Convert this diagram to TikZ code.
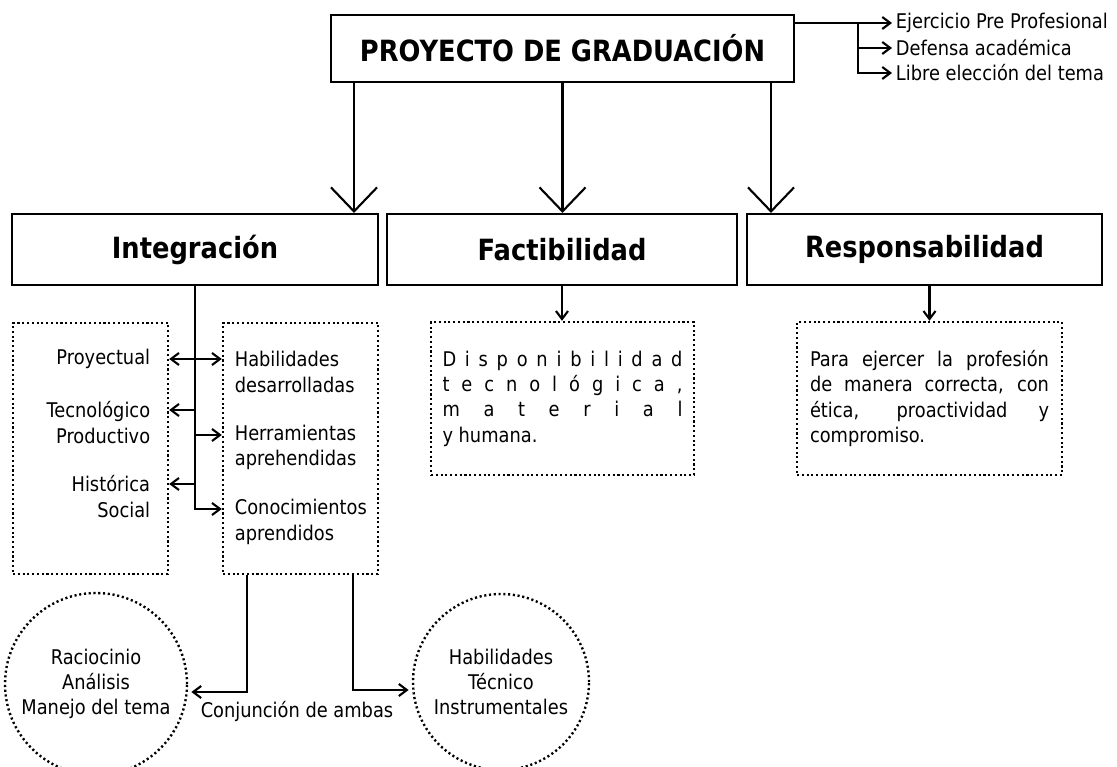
\documentclass[tikz,border=0pt]{standalone}
\usepackage{fontspec}
\setmainfont{DejaVu Sans}[FakeStretch=0.88]
\usetikzlibrary{arrows.meta}

\newcommand\espaciar[1]{\makebox[6cm][s]{#1}}

\begin{document}
\begin{tikzpicture}[line width=1.5pt,
  caja/.style={draw,rectangle,minimum height=1.775cm,font=\fontsize{20.8}{24}\selectfont\bfseries},
  punteado/.style={draw,line width=1.7pt,dash pattern=on 1.5pt off 1.9pt},
  texto/.style={font=\fontsize{14.4}{18}\selectfont,inner xsep=2pt,inner ysep=0pt},
  flecha/.style={-{Straight Barb[length=0.6cm,width=1.15cm]}},
  flechita/.style={-{Straight Barb[length=0.2cm,width=0.3cm]}}]
\useasboundingbox (0,0) rectangle (27.925,-19.175);
% cabecera
\node[caja,minimum width=11.575cm,minimum height=1.675cm] (proy) at (14.0625,-1.2125) {PROYECTO DE GRADUACIÓN};
\node[texto,anchor=west] (ejer) at (22.3,-0.575) {Ejercicio Pre Profesional};
\node[texto,anchor=west] (defe) at (22.3,-1.2) {Defensa académica};
\node[texto,anchor=west] (libr) at (22.3,-1.825) {Libre elección del tema};
\coordinate (brk) at (21.45,-0.575);
\draw[flechita] (proy.east |- ejer.west) -- (ejer.west);
\draw[flechita] (brk |- defe.west) -- (defe.west);
\draw[flechita] (brk) |- (libr.west);
% tres ejes
\node[caja,minimum width=9.15cm] (integ) at (4.875,-6.2375) {Integración};
\node[caja,minimum width=8.75cm] (facti) at (14.05,-6.2375) {Factibilidad};
\node[caja,minimum width=8.875cm] (respo) at (23.1125,-6.2375) {Responsabilidad};
\coordinate (a1) at ([xshift=-5.2125cm]proy.south);
\coordinate (a3) at ([xshift=5.2125cm]proy.south);
\draw[flecha] (a1) -- (a1 |- integ.north);
\draw[flecha] (proy.south) -- (proy.south |- facti.north);
\draw[flecha] (a3) -- (a3 |- respo.north);
% integracion
\node[punteado,minimum width=3.875cm,minimum height=6.275cm] (lbox) at (2.2625,-11.2125) {};
\node[punteado,minimum width=3.875cm,minimum height=6.275cm] (rbox) at (7.5125,-11.2125) {};
\node[texto,anchor=east,align=right] (proyec) at (3.85,-8.975) {Proyectual};
\node[texto,anchor=east,align=right] (tecno) at (3.85,-10.5625) {Tecnológico\\Productivo};
\node[texto,anchor=east,align=right] (histo) at (3.85,-12.4125) {Histórica\\Social};
\node[texto,anchor=west,align=left] (habil) at (5.775,-9.3) {Habilidades\\desarrolladas};
\node[texto,anchor=west,align=left] (herra) at (5.775,-11.1875) {Herramientas\\aprehendidas};
\node[texto,anchor=west,align=left] (conoc) at (5.775,-13.05) {Conocimientos\\aprendidos};
\draw[flechita] (integ.south) |- (rbox.west |- 0,-12.725);
\draw[flechita] (integ.south |- 0,-10.875) -- (rbox.west |- 0,-10.875);
\draw[flechita] (integ.south |- 0,-8.975) -- (rbox.west |- 0,-8.975);
\draw[flechita] (integ.south |- 0,-8.975) -- (lbox.east |- 0,-8.975);
\draw[flechita] (integ.south |- 0,-10.25) -- (lbox.east |- 0,-10.25);
\draw[flechita] (integ.south |- 0,-12.1) -- (lbox.east |- 0,-12.1);
% factibilidad y responsabilidad
\node[punteado,texto,text width=6cm,minimum width=6.575cm,minimum height=3.825cm,align=justify] (ftext) at (14.0625,-9.9625)
  {\espaciar{D\hfill i\hfill s\hfill p\hfill o\hfill n\hfill i\hfill b\hfill i\hfill l\hfill i\hfill d\hfill a\hfill d}\\
   \espaciar{t\hfill e\hfill c\hfill n\hfill o\hfill l\hfill ó\hfill g\hfill i\hfill c\hfill a\hfill ,}\\
   \espaciar{m\hfill a\hfill t\hfill e\hfill r\hfill i\hfill a\hfill l}\\
   y humana.};
\node[punteado,texto,text width=5.975cm,minimum width=6.625cm,minimum height=3.825cm,align=justify] (rtext) at (23.2375,-9.9625)
  {Para ejercer la profesión\linebreak de manera correcta, con\linebreak ética, proactividad y\linebreak compromiso.};
\draw[flechita] (facti.south) -- (facti.south |- ftext.north);
\draw[flechita] (rtext.north |- respo.south) -- (rtext.north);
% conjuncion
\node[punteado,texto,circle,inner sep=0pt,minimum size=4.55cm,align=center] (lcirc) at (2.4,-17.1) {Raciocinio\\Análisis\\Manejo del tema};
\node[punteado,texto,circle,inner sep=0pt,minimum size=4.4cm,align=center] (rcirc) at (12.525,-17.05) {Habilidades\\Técnico\\Instrumentales};
\node[texto] (conj) at (7.425,-17.8) {Conjunción de ambas};
\coordinate (c1) at ([xshift=-1.3375cm]rbox.south);
\coordinate (c2) at ([xshift=1.3125cm]rbox.south);
\draw[flechita] (c1) |- ([xshift=0.08cm,yshift=-0.2cm]lcirc.east);
\draw[flechita] (c2) |- ([xshift=-0.08cm,yshift=-0.2cm]rcirc.west);
\end{tikzpicture}
\end{document}
